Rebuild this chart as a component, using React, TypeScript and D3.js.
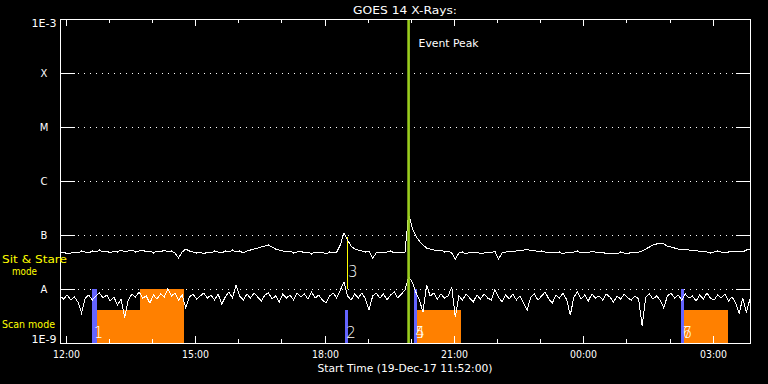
import React from "react";
import * as d3 from "d3";

const W = 768;
const H = 384;

const START = "2017-12-19 11:52";
const END = "2017-12-20 03:52";
const CADENCE_MIN = 5;

// GOES 14 long channel (1-8 A), units of 1e-9 W/m^2, one value every 5 min from START
const longFlux = [
  46.4, 48.4, 44.5, 46.4, 48.4, 46.4, 50.6, 48.4, 46.4, 50.6,
  48.4, 52.7, 48.4, 50.6, 46.4, 50.6, 48.4, 52.7, 48.4, 50.6,
  52.7, 48.4, 50.6, 52.7, 48.4, 50.6, 46.4, 50.6, 48.4, 52.7,
  48.4, 50.6, 46.4, 37.5, 48.4, 55.0, 50.6, 48.4, 46.4, 48.4,
  44.5, 48.4, 46.4, 50.6, 48.4, 46.4, 50.6, 48.4, 52.7, 48.4,
  50.6, 46.4, 50.6, 52.7, 55.0, 57.4, 59.9, 62.5, 65.3, 59.9,
  55.0, 52.7, 50.6, 48.4, 50.6, 46.4, 48.4, 50.6, 46.4, 48.4,
  44.5, 48.4, 46.4, 48.4, 44.5, 48.4, 46.4, 48.4, 65.3, 109,
  80.8, 62.5, 55.0, 52.7, 50.6, 48.4, 50.6, 37.5, 46.4, 48.4,
  46.4, 48.4, 50.6, 46.4, 48.4, 48.4, 48.4, 245, 135, 95.8,
  77.4, 65.3, 57.4, 55.0, 52.7, 50.6, 52.7, 48.4, 50.6, 46.4,
  35.9, 46.4, 48.4, 44.5, 48.4, 46.4, 48.4, 44.5, 46.4, 48.4,
  46.4, 50.6, 35.9, 46.4, 48.4, 50.6, 48.4, 50.6, 52.7, 52.7,
  55.0, 50.6, 52.7, 48.4, 50.6, 48.4, 46.4, 48.4, 46.4, 48.4,
  44.5, 48.4, 46.4, 48.4, 50.6, 46.4, 48.4, 46.4, 50.6, 48.4,
  46.4, 48.4, 44.5, 44.5, 46.4, 44.5, 48.4, 46.4, 44.5, 48.4,
  46.4, 48.4, 50.6, 55.0, 59.9, 65.3, 68.1, 71.1, 68.1, 62.5,
  59.9, 57.4, 55.0, 52.7, 55.0, 52.7, 50.6, 52.7, 48.4, 50.6,
  48.4, 46.4, 48.4, 50.6, 48.4, 46.4, 48.4, 50.6, 48.4, 50.6,
  48.4, 52.7, 55.0,
];

// GOES 14 short channel (0.5-4 A), units of 1e-9 W/m^2
const shortFlux = [
  7.42, 6.53, 7.74, 6.26, 7.11, 5.74, 3.59, 6.81, 7.74, 6.26,
  7.42, 8.43, 6.81, 7.74, 6.0, 7.11, 5.06, 6.53, 2.9, 6.26,
  8.08, 7.11, 8.8, 6.81, 7.42, 5.5, 7.74, 6.53, 8.08, 7.11,
  10.0, 7.42, 8.43, 6.26, 7.74, 4.45, 7.11, 8.08, 6.53, 7.42,
  8.43, 6.81, 7.74, 6.26, 8.08, 5.27, 7.11, 8.8, 6.81, 11.9,
  7.42, 6.26, 8.08, 6.81, 8.43, 7.11, 6.0, 7.74, 8.43, 6.53,
  7.42, 5.74, 8.08, 6.81, 7.74, 6.26, 8.43, 7.11, 8.08, 6.53,
  8.8, 6.81, 7.74, 6.26, 5.5, 7.42, 8.43, 6.81, 9.58, 13.5,
  7.42, 6.26, 8.08, 6.81, 8.43, 6.53, 4.08, 7.42, 8.43, 6.81,
  8.08, 6.26, 7.74, 8.8, 6.81, 8.08, 9.58, 16.7, 13.5, 8.8,
  6.26, 3.75, 11.9, 7.42, 8.43, 6.53, 8.08, 6.81, 7.42, 10.9,
  3.03, 7.42, 6.26, 8.08, 6.81, 5.74, 7.74, 6.53, 8.08, 6.81,
  6.26, 9.58, 7.11, 5.74, 7.74, 6.53, 8.08, 6.26, 7.42, 5.5,
  4.08, 7.11, 8.08, 6.26, 7.42, 8.8, 6.53, 5.5, 7.74, 6.81,
  8.43, 6.26, 3.3, 7.11, 8.8, 6.53, 7.74, 6.0, 8.08, 6.81,
  7.42, 6.26, 8.08, 7.11, 5.74, 7.42, 6.53, 8.08, 6.81, 6.26,
  7.42, 6.53, 2.07, 7.11, 8.08, 6.53, 7.42, 6.26, 4.45, 7.42,
  8.43, 6.81, 7.74, 6.26, 8.08, 6.81, 7.42, 6.0, 7.74, 6.53,
  8.43, 6.81, 6.26, 7.74, 6.81, 8.08, 6.0, 7.11, 5.5, 3.59,
  6.81, 3.75, 6.53,
];

const yTickValues = [1e-9, 1e-8, 1e-7, 1e-6, 1e-5, 1e-4, 1e-3];
const yTickLabels = ["1E-9", "A", "B", "C", "M", "X", "1E-3"];

// Scan-mode (orange) intervals
const scanStarts = ["2017-12-19 12:43", "2017-12-19 13:43", "2017-12-19 20:08", "2017-12-20 02:19"];
const scanEnds = ["2017-12-19 13:43", "2017-12-19 14:44", "2017-12-19 21:10", "2017-12-20 03:21"];
const scanTops = [4.1e-9, 1e-8, 4.1e-9, 4.1e-9];

// Event markers (blue)
const markerStarts = ["2017-12-19 12:37", "2017-12-19 18:28", "2017-12-19 20:04", "2017-12-20 02:16"];
const markerEnds = ["2017-12-19 12:43", "2017-12-19 18:32", "2017-12-19 20:08", "2017-12-20 02:19"];
const markerTops = [1e-8, 4.1e-9, 1e-8, 1e-8];
const markerLabels = [["1"], ["2"], ["4", "5"], ["6", "7"]];

// Flare marker (yellow)
const flareTime = "2017-12-19 18:32";
const flareLow = 1e-8;
const flareHigh = 9.2e-8;
const flareLabel = "3";

const peakTime = "2017-12-19 19:57";

const parse = d3.timeParse("%Y-%m-%d %H:%M");
const FONT = "'DejaVu Sans', sans-serif";

export default function App() {
  const left = 60, right = 750, top = 19, bottom = 343;
  const t0 = parse(START) as Date;
  const t1 = parse(END) as Date;
  const x = d3.scaleTime().domain([t0, t1]).range([left, right]);
  const y = d3.scaleLog().domain([1e-9, 1e-3]).range([bottom, top]);

  const timeOf = (i: number) => d3.timeMinute.offset(t0, i * CADENCE_MIN);
  const line = d3
    .line<number>()
    .x((_, i) => x(timeOf(i)))
    .y((v) => y(v * 1e-9));

  const hours = d3.timeHour.range(t0, t1);
  const fmt = d3.timeFormat("%H:%M");

  const peakX = x(parse(peakTime) as Date);
  const flareX = x(parse(flareTime) as Date);

  return (
    <svg
      width={W}
      height={H}
      style={{ position: "fixed", left: 0, top: 0, background: "#000" }}
      fontFamily={FONT}
    >
      <rect x={0} y={0} width={W} height={H} fill="#000" />

      {/* grid: decade levels */}
      {yTickValues.map((v, i) => {
        const yy = Math.round(y(v)) + 0.5;
        if (i === 0 || i === yTickValues.length - 1) return null;
        return (
          <g key={"g" + i} shapeRendering="crispEdges">
            <line x1={left} x2={left + 15} y1={yy} y2={yy} stroke="#fff" />
            <line x1={right - 14} x2={right} y1={yy} y2={yy} stroke="#fff" />
            <line x1={left + 18} x2={right - 14} y1={yy} y2={yy} stroke="#fff" strokeDasharray="1 5" />
          </g>
        );
      })}

      {/* scan mode blocks */}
      {scanStarts.map((s, i) => {
        const xa = x(parse(s) as Date);
        const xb = x(parse(scanEnds[i]) as Date);
        const yt = y(scanTops[i]);
        return (
          <rect key={"s" + i} x={xa} y={yt} width={xb - xa} height={bottom - yt} fill="#ff8000" shapeRendering="crispEdges" />
        );
      })}

      {/* markers */}
      {markerStarts.map((s, i) => {
        const xa = x(parse(s) as Date);
        const xb = x(parse(markerEnds[i]) as Date);
        const yt = y(markerTops[i]);
        return (
          <rect key={"m" + i} x={xa} y={yt} width={Math.max(2.5, xb - xa)} height={bottom - yt} fill="#6464ff" shapeRendering="crispEdges" />
        );
      })}

      {/* flare marker */}
      <line x1={flareX} x2={flareX} y1={y(flareLow)} y2={y(flareHigh)} stroke="#ffff00" strokeWidth={1} shapeRendering="crispEdges" />

      {/* traces */}
      <path d={line(longFlux) || ""} fill="none" stroke="#fff" strokeWidth={1} shapeRendering="crispEdges" />
      <path d={line(shortFlux) || ""} fill="none" stroke="#fff" strokeWidth={1} shapeRendering="crispEdges" />

      {/* event peak */}
      <rect x={peakX - 1.3} y={top} width={2.6} height={bottom - top} fill="#9acd1e" />
      <text x={peakX + 10} y={46.5} fill="#fff" fontSize={11} textLength={60} lengthAdjust="spacingAndGlyphs">
        Event Peak
      </text>

      {/* marker labels */}
      {markerStarts.map((s, i) => {
        const xa = x(parse(s) as Date);
        return markerLabels[i].map((lab) => (
          <text key={"ml" + i + lab} x={xa + 1.5} y={338} fill="#fff" fontSize={15} fontWeight={300}>
            {lab}
          </text>
        ));
      })}
      <text x={flareX + 0.5} y={277} fill="#fff" fontSize={15} fontWeight={300}>
        {flareLabel}
      </text>

      {/* frame */}
      <rect x={left + 0.5} y={top + 0.5} width={right - left} height={bottom - top} fill="none" stroke="#fff" shapeRendering="crispEdges" />

      {/* x ticks */}
      {hours.map((h, i) => {
        const xx = Math.round(x(h)) + 0.5;
        const major = h.getHours() % 3 === 0;
        const len = major ? 7 : 4;
        return (
          <g key={"t" + i} shapeRendering="crispEdges">
            <line x1={xx} x2={xx} y1={top} y2={top + len} stroke="#fff" />
            <line x1={xx} x2={xx} y1={bottom} y2={bottom - len} stroke="#fff" />
            {major && (
              <text x={xx} y={358} fill="#fff" fontSize={10} textAnchor="middle" textLength={27} lengthAdjust="spacingAndGlyphs">
                {fmt(h)}
              </text>
            )}
          </g>
        );
      })}

      {/* y labels */}
      {yTickValues.map((v, i) => {
        let by = y(v) + 4;
        if (i === 0) by = bottom;
        if (i === yTickValues.length - 1) by = top + 8;
        const long = yTickLabels[i].length > 1;
        return (
          <text
            key={"yl" + i}
            x={44}
            y={by}
            fill="#fff"
            fontSize={10}
            textAnchor="middle"
            {...(long ? { textLength: 25, lengthAdjust: "spacingAndGlyphs" } : {})}
          >
            {yTickLabels[i]}
          </text>
        );
      })}

      {/* title & axis title */}
      <text x={(left + right) / 2} y={13.5} fill="#fff" fontSize={11} textAnchor="middle" textLength={104} lengthAdjust="spacingAndGlyphs">
        GOES 14 X-Rays:
      </text>
      <text x={(left + right) / 2} y={372} fill="#fff" fontSize={10} textAnchor="middle" textLength={175} lengthAdjust="spacingAndGlyphs">
        Start Time (19-Dec-17 11:52:00)
      </text>

      {/* mode labels */}
      <text x={2} y={263} fill="#ffff00" fontSize={11} textLength={65} lengthAdjust="spacingAndGlyphs">
        Sit &amp; Stare
      </text>
      <text x={12} y={275} fill="#ffff00" fontSize={11} textLength={25} lengthAdjust="spacingAndGlyphs">
        mode
      </text>
      <text x={2} y={327.5} fill="#ffff00" fontSize={11} textLength={53} lengthAdjust="spacingAndGlyphs">
        Scan mode
      </text>
    </svg>
  );
}
